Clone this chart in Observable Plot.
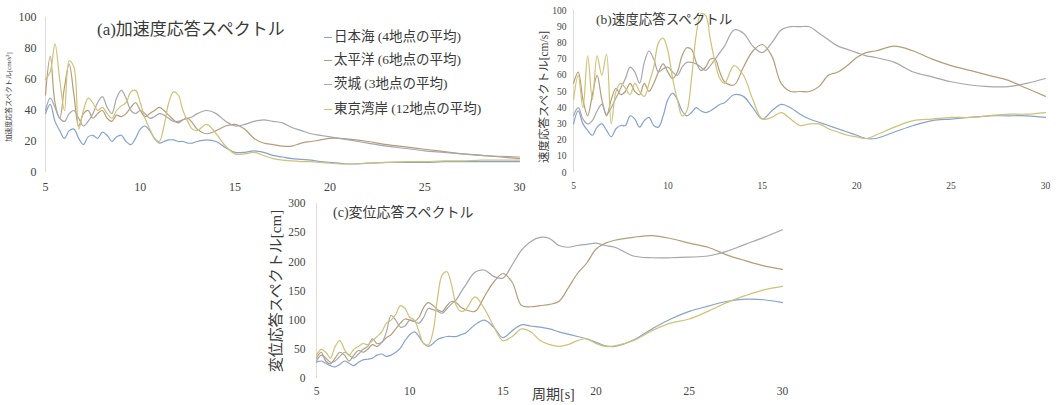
<!DOCTYPE html>
<html><head><meta charset="utf-8">
<script src="https://cdn.jsdelivr.net/npm/d3@7"></script>
<script src="https://cdn.jsdelivr.net/npm/@observablehq/plot@0.6"></script>
<style>
html,body{margin:0;padding:0;background:#fff;}
#fig{position:relative;width:1062px;height:405px;overflow:hidden;font-family:"Liberation Serif","Times New Roman","DejaVu Serif","Noto Sans CJK JP",serif;color:#3a3a3a;}
.panel{position:absolute;}
.t{position:absolute;white-space:nowrap;line-height:1;}
.v{position:absolute;white-space:nowrap;line-height:1;transform:translate(-50%,-50%) rotate(-90deg);}
.lg{position:absolute;white-space:nowrap;line-height:1;font-size:13.5px;}
.lg span.d{display:inline-block;width:8px;height:0;border-top:1.6px solid #888;vertical-align:middle;margin-right:2px;}
</style></head><body><div id="fig"></div>
<script>
// ---- data ----
const periods = [5,5.25,5.5,5.75,6,6.25,6.5,6.75, 7,7.25,7.5,7.75,8,8.25,8.5,8.75, 9,9.25,9.5,9.75,10,10.25,10.5,10.75, 11,11.25,11.5,11.75,12,12.25,12.5,12.75, 13,13.5,14,14.5,15,15.5,16,16.5, 17,17.5,18,18.5,19,19.5,20,20.5, 21,22,23,24,25,26,27, 28,29,30];
const xTicks = [5,10,15,20,25,30];
const seriesNames = ["日本海 (4地点の平均)","太平洋 (6地点の平均)","茨城 (3地点の平均)","東京湾岸 (12地点の平均)"];
const seriesColors = ["#86a2d2","#b59d78","#a6a6ad","#cfc276"];

// (a) acceleration [cm/s2]
const accJapanSea = [38,44,33,27,22,27,28,22, 18,23,24,22,26,24,20,23, 24,20,18,22,28,30,27,22, 19,20,21,21,20,20,19,19, 20,21,20,16,13,13,14,13, 11,10,9,8.5,8,7,6.5,6, 5.5,6,6.5,6.5,6.5,7,7, 7,7,7];
const accPacific  = [50,75,45,35,55,70,50,30, 38,40,35,38,40,35,33,37, 36,38,42,45,40,36,38,40, 42,40,37,34,32,34,35,32, 28,25,27,30,31,28,22,19, 18,17,17,19,20,21,22,22, 21.5,20,18,16.5,15,13.5,12, 11,10,9];
const accIbaraki  = [40,48,42,35,33,38,40,35, 30,33,38,45,49,42,38,48, 53,48,40,38,40,38,35,36, 38,37,35,33,33,34,35,36, 38,40,38,33,30,31,33,34, 33,32,29,27,25,24,23,22, 21,19,17,15.5,14,13,12, 11,10.5,10];
const accTokyoBay = [60,65,83,60,40,72,68,28, 40,48,45,40,42,38,35,40, 43,45,52,53,45,35,28,22, 20,30,45,52,50,40,33,28, 27,31,25,17,12,12,13,11, 9,8,7.5,7,7,6.5,6,5.5, 5.5,6,6.5,7,7,7.5,7.5, 8,8,8];

// (b) velocity [cm/s]
const velJapanSea = [30,38,30,26,23,28,30,26, 22,27,29,29,35,33,28,32, 34,29,28,35,45,49,45,38, 35,37,40,38,37,38,40,42, 43,48,47,40,33,38,42,40, 36,33,31,29,27,25,23,21, 21,25,29,32,33,34,35, 35,35,34];
const velPacific  = [55,62,45,35,48,60,45,35, 45,52,48,50,55,50,48,55, 50,55,62,67,62,58,62,72, 77,76,68,63,65,70,70,62, 56,54,65,75,79,72,55,50, 50,50,53,60,62,66,71,74, 75,78,75,70,66,63,60, 57,52,47];
const velIbaraki  = [35,40,33,30,32,38,42,36, 40,46,52,58,65,62,55,68, 75,70,62,64,65,62,60,65, 68,68,67,65,63,66,70,74, 78,88,86,78,74,80,88,90, 90,90,86,82,78,76,74,72, 71,68,62,59,56,54,53, 53,55,58];
const velTokyoBay = [45,60,40,72,45,72,60,73, 30,50,55,52,48,55,50,47, 55,65,80,83,75,58,45,35, 38,58,85,98,97,82,68,58, 55,66,60,45,33,34,37,33, 29,30,30,27,25,23,22,21, 23,28,32,33,34,34,35, 36,36,37];

// (c) displacement [cm]
const dispJapanSea = [28,30,26,22,20,24,30,26, 22,28,32,33,35,40,42,38, 40,45,52,65,75,80,72,60, 55,60,67,70,72,72,72,75, 78,92,100,88,70,82,92,90, 88,85,80,76,72,68,62,56, 55,66,85,102,115,124,132, 136,135,130];
const dispPacific  = [35,45,30,25,35,45,40,30, 40,48,45,50,58,55,62,70, 75,85,95,102,100,98,105,122, 130,125,118,115,125,132,130,122, 118,115,140,165,180,165,125,123, 125,127,132,155,180,198,222,232, 237,242,245,240,232,225,212, 202,193,187];
const dispIbaraki  = [30,40,35,28,30,38,45,40, 35,42,50,55,68,60,62,80, 108,100,88,90,100,98,95,105, 120,118,115,112,120,128,135,148, 160,182,186,175,172,195,220,235, 242,240,228,225,228,230,232,228, 225,210,207,207,208,210,218, 230,242,255];
const dispTokyoBay = [40,50,45,35,55,65,50,40, 50,55,60,58,65,72,80,95, 100,110,125,120,105,100,80,60, 58,80,140,178,183,160,125,115, 118,140,120,90,65,72,85,80, 65,58,55,58,65,68,60,55, 56,65,82,95,102,115,130, 142,152,158];

const accTicks = [0,20,40,60,80,100];
const velTicks = [0,10,20,30,40,50,60,70,80,90,100];
const dispTicks = [0,50,100,150,200,250,300];

// ---- build ----
const fig = document.getElementById("fig");
const FONT = '"Liberation Serif","Times New Roman","DejaVu Serif","Noto Sans CJK JP",serif';

function rows(arrs){
  const out = [];
  arrs.forEach((a,si)=>a.forEach((v,i)=>out.push({period:periods[i], value:v, series:seriesNames[si]})));
  return out;
}

function panel(o){
  const chart = Plot.plot({
    width:o.w, height:o.h,
    marginLeft:o.ml, marginRight:o.mr, marginTop:o.mt, marginBottom:o.mb,
    style:{background:"transparent", fontFamily:FONT, fontSize:o.fs+"px", color:"#444"},
    x:{domain:[5,30], ticks:xTicks, tickSize:0, tickPadding:o.xpad, label:null},
    y:{domain:[0,o.ymax], ticks:o.yticks, tickSize:0, tickPadding:o.ypad, label:null},
    color:{domain:seriesNames, range:seriesColors},
    marks:[
      Plot.ruleX([5],{stroke:"#dcdcdc"}),
      Plot.line(rows(o.data),{x:"period", y:"value", z:"series", stroke:"series", strokeWidth:1.2, curve:"catmull-rom"})
    ]
  });
  chart.querySelectorAll("text").forEach(t=>t.setAttribute("font-family",FONT));
  const d = document.createElement("div");
  d.className="panel"; d.style.left=o.x+"px"; d.style.top=o.y+"px";
  d.appendChild(chart); fig.appendChild(d);
}

panel({x:0,y:0,w:530,h:200,ml:45,mr:11,mt:17,mb:28,fs:12,xpad:10,ypad:9,ymax:100,yticks:accTicks,
  data:[accJapanSea,accPacific,accIbaraki,accTokyoBay]});
panel({x:530,y:0,w:532,h:200,ml:43,mr:17,mt:10,mb:28,fs:9.5,xpad:10,ypad:7,ymax:100,yticks:velTicks,
  data:[velJapanSea,velPacific,velIbaraki,velTokyoBay]});
panel({x:260,y:198,w:540,h:207,ml:56,mr:18,mt:5,mb:27,fs:11.5,xpad:8,ypad:11,ymax:300,yticks:dispTicks,
  data:[dispJapanSea,dispPacific,dispIbaraki,dispTokyoBay]});

function text(s,x,y,fs,cls){
  const e=document.createElement("div"); e.className=cls||"t"; e.textContent=s;
  e.style.left=x+"px"; e.style.top=y+"px"; e.style.fontSize=fs+"px"; fig.appendChild(e); return e;
}
text("(a)加速度応答スペクトル",97,21,17);
text("(b)速度応答スペクトル",596,13,13.5);
text("(c)変位応答スペクトル",333,206,14);
text("周期[s]",532,388,14);
text("加速度応答スペクトル[cm/s²]",9,97,7,"v");
text("速度応答スペクトル[cm/s]",545,97,11.5,"v");
text("変位応答スペクトル[cm]",276,291,15,"v");

const legY=[30,53,77,102];
seriesNames.forEach((n,i)=>{
  const e=document.createElement("div"); e.className="lg";
  e.style.left="324px"; e.style.top=legY[i]+"px";
  e.innerHTML='<span class="d" style="border-top-color:'+seriesColors[i]+'"></span>'+n;
  fig.appendChild(e);
});
</script></body></html>
